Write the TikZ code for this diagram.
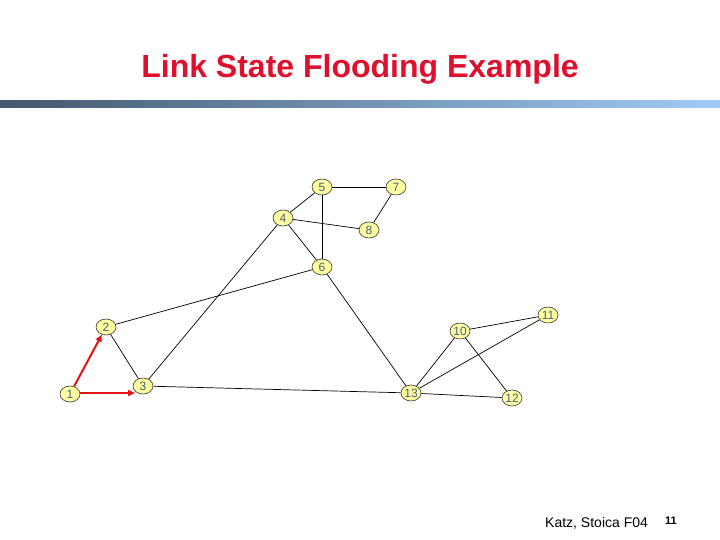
\documentclass[tikz,border=0pt]{standalone}
\usepackage{fontspec}
\setmainfont{Liberation Sans}
\usetikzlibrary{shapes.geometric,arrows.meta}
\definecolor{titlered}{RGB}{222,16,46}
\definecolor{nodefill}{RGB}{255,255,160}
\definecolor{digit}{RGB}{70,95,135}
\definecolor{barL}{RGB}{68,88,110}
\definecolor{barR}{RGB}{160,204,248}
\definecolor{arrowred}{RGB}{225,20,20}
\tikzset{
  rnode/.style={ellipse, draw=black!80, line width=0.6pt, fill=nodefill,
    minimum width=20pt, minimum height=16pt, inner sep=0pt,
    font=\fontsize{12}{12}\selectfont, text=digit},
  link/.style={draw=black, line width=0.7pt},
  flood/.style={draw=arrowred, line width=2pt, -{Triangle[length=7pt,width=6pt]}}
}
\begin{document}
\begin{tikzpicture}[x=1pt,y=-1pt]
\useasboundingbox (0,0) rectangle (720,540);
\fill[white] (0,0) rectangle (720,540);
% title
\node[text=titlered, font=\fontsize{32}{32}\selectfont\bfseries] (title) at (360,69) {Link State Flooding Example};
\shade[left color=barL, right color=barR] (0,101) rectangle (720,108);
% nodes
\node[rnode] (n5) at (322,187) {5};
\node[rnode] (n7) at (396,187) {7};
\node[rnode] (n4) at (283,218) {4};
\node[rnode] (n8) at (369,230) {8};
\node[rnode] (n6) at (322,267) {6};
\node[rnode] (n2) at (106,327) {2};
\node[rnode] (n10) at (460,331) {10};
\node[rnode] (n11) at (548,315) {11};
\node[rnode] (n1) at (70,394) {1};
\node[rnode] (n3) at (143,386) {3};
\node[rnode] (n13) at (411,393) {13};
\node[rnode] (n12) at (512,398) {12};
\coordinate (a3) at (135,393);
% links
\draw[link] (n5) -- (n7);
\draw[link] (n5) -- (n4);
\draw[link] (n5) -- (n6);
\draw[link] (n7) -- (n8);
\draw[link] (n4) -- (n8);
\draw[link] (n4) -- (n6);
\draw[link] (n4) -- (n3);
\draw[link] (n6) -- (n2);
\draw[link] (n6) -- (n13);
\draw[link] (n2) -- (n3);
\draw[link] (n3) -- (n13);
\draw[link] (n13) -- (n10);
\draw[link] (n13) -- (n11);
\draw[link] (n13) -- (n12);
\draw[link] (n10) -- (n11);
\draw[link] (n10) -- (n12);
\draw[flood] (n1) -- (n2);
\draw[flood] (n1.east |- a3) -- (a3);
% footer
\node[anchor=base west, inner sep=0pt, font=\fontsize{14}{14}\selectfont] (foot) at (545,527) {Katz, Stoica F04};
\node[anchor=base west, inner sep=0pt, font=\fontsize{11}{11}\selectfont\bfseries] (pg) at (665,524) {11};
\end{tikzpicture}
\end{document}
